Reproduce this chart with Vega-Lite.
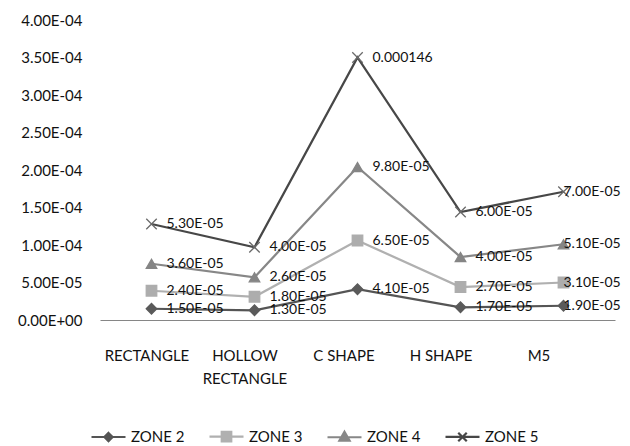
{
  "$schema": "https://vega.github.io/schema/vega-lite/v6.json",
  "width": 515,
  "height": 300,
  "autosize": {"type": "none"},
  "padding": {"left": 100, "top": 20, "right": 15, "bottom": 126},
  "background": "white",
  "config": {
    "view": {"stroke": null},
    "font": "Lato",
    "axis": {"labelFont": "Lato", "labelColor": "#111111", "grid": false, "ticks": false, "title": null}
  },
  "data": {
    "values": [
      {"shape": "RECTANGLE", "zone": "ZONE 2", "value": 0.000015, "label": "1.50E-05"},
      {"shape": "RECTANGLE", "zone": "ZONE 3", "value": 0.000024, "label": "2.40E-05"},
      {"shape": "RECTANGLE", "zone": "ZONE 4", "value": 0.000036, "label": "3.60E-05"},
      {"shape": "RECTANGLE", "zone": "ZONE 5", "value": 0.000053, "label": "5.30E-05"},
      {"shape": "HOLLOW RECTANGLE", "zone": "ZONE 2", "value": 0.000013, "label": "1.30E-05"},
      {"shape": "HOLLOW RECTANGLE", "zone": "ZONE 3", "value": 0.000018, "label": "1.80E-05"},
      {"shape": "HOLLOW RECTANGLE", "zone": "ZONE 4", "value": 0.000026, "label": "2.60E-05"},
      {"shape": "HOLLOW RECTANGLE", "zone": "ZONE 5", "value": 0.00004, "label": "4.00E-05"},
      {"shape": "C SHAPE", "zone": "ZONE 2", "value": 0.000041, "label": "4.10E-05"},
      {"shape": "C SHAPE", "zone": "ZONE 3", "value": 0.000065, "label": "6.50E-05"},
      {"shape": "C SHAPE", "zone": "ZONE 4", "value": 0.000098, "label": "9.80E-05"},
      {"shape": "C SHAPE", "zone": "ZONE 5", "value": 0.000146, "label": "0.000146"},
      {"shape": "H SHAPE", "zone": "ZONE 2", "value": 0.000017, "label": "1.70E-05"},
      {"shape": "H SHAPE", "zone": "ZONE 3", "value": 0.000027, "label": "2.70E-05"},
      {"shape": "H SHAPE", "zone": "ZONE 4", "value": 0.00004, "label": "4.00E-05"},
      {"shape": "H SHAPE", "zone": "ZONE 5", "value": 0.00006, "label": "6.00E-05"},
      {"shape": "M5", "zone": "ZONE 2", "value": 0.000019, "label": "1.90E-05"},
      {"shape": "M5", "zone": "ZONE 3", "value": 0.000031, "label": "3.10E-05"},
      {"shape": "M5", "zone": "ZONE 4", "value": 0.000051, "label": "5.10E-05"},
      {"shape": "M5", "zone": "ZONE 5", "value": 0.00007, "label": "7.00E-05"}
    ]
  },
  "transform": [
    {"stack": "value", "groupby": ["shape"], "sort": [{"field": "zone", "order": "ascending"}], "as": ["y0", "y1"]}
  ],
  "encoding": {
    "x": {
      "field": "shape",
      "type": "nominal",
      "sort": ["RECTANGLE", "HOLLOW RECTANGLE", "C SHAPE", "H SHAPE", "M5"],
      "scale": {"type": "point", "padding": 0.5},
      "axis": {
        "labelAngle": 0,
        "labelFontSize": 15,
        "labelPadding": 28,
        "labelLineHeight": 23,
        "labelBaseline": "top",
        "domainColor": "#868686",
        "domainWidth": 1,
        "labelExpr": "datum.value == 'HOLLOW RECTANGLE' ? ['HOLLOW', 'RECTANGLE'] : datum.value",
        "labelOffset": {
          "condition": [
            {"test": "datum.value == 'RECTANGLE'", "value": -5},
            {"test": "datum.value == 'HOLLOW RECTANGLE'", "value": -10},
            {"test": "datum.value == 'C SHAPE'", "value": -14},
            {"test": "datum.value == 'H SHAPE'", "value": -20}
          ],
          "value": -25
        }
      }
    },
    "y": {
      "field": "y1",
      "type": "quantitative",
      "scale": {"domain": [0, 0.0004], "nice": false, "zero": true},
      "axis": {
        "domain": false,
        "values": [0, 0.00005, 0.0001, 0.00015, 0.0002, 0.00025, 0.0003, 0.00035, 0.0004],
        "labelFontSize": 15,
        "labelPadding": 18,
        "labelExpr": "datum.value == 0 ? '0.00E+00' : (datum.value < 0.000099 ? format(datum.value * 100000, '.2f') + 'E-05' : format(datum.value * 10000, '.2f') + 'E-04')"
      }
    }
  },
  "layer": [
    {
      "mark": {"type": "line", "strokeWidth": 2.25},
      "encoding": {
        "color": {
          "field": "zone", "type": "nominal",
          "scale": {"domain": ["ZONE 2", "ZONE 3", "ZONE 4", "ZONE 5"], "range": ["#555555", "#b0b0b0", "#878787", "#474747"]},
          "legend": null
        }
      }
    },
    {
      "mark": {"type": "point", "filled": true, "opacity": 1, "strokeWidth": 1.3},
      "encoding": {
        "fill": {
          "field": "zone", "type": "nominal",
          "scale": {"domain": ["ZONE 2", "ZONE 3", "ZONE 4", "ZONE 5"], "range": ["#5a5a5a", "#adadad", "#858585", "#6a6a6a"]},
          "legend": null
        },
        "stroke": {
          "field": "zone", "type": "nominal",
          "scale": {"domain": ["ZONE 2", "ZONE 3", "ZONE 4", "ZONE 5"], "range": ["#5a5a5a", "#adadad", "#858585", "#6a6a6a"]},
          "legend": null
        },
        "shape": {
          "field": "zone", "type": "nominal",
          "scale": {"domain": ["ZONE 2", "ZONE 3", "ZONE 4", "ZONE 5"], "range": ["diamond", "square", "triangle-up", "M-1,-1L1,1M-1,1L1,-1"]},
          "legend": null
        },
        "size": {"value": 110}
      }
    },
    {
      "transform": [{"filter": "datum.shape != 'M5'"}],
      "mark": {"type": "text", "align": "left", "baseline": "middle", "dx": 15, "fontSize": 14, "font": "Lato", "color": "#111111"},
      "encoding": {"text": {"field": "label"}}
    },
    {
      "transform": [{"filter": "datum.shape == 'M5'"}],
      "mark": {"type": "text", "align": "left", "baseline": "middle", "dx": 0, "fontSize": 14, "font": "Lato", "color": "#111111"},
      "encoding": {"text": {"field": "label"}}
    },
    {
      "transform": [{"filter": "false"}],
      "mark": {"type": "point", "filled": true, "opacity": 1, "strokeWidth": 2.2},
      "encoding": {
        "fill": {
          "field": "zone", "type": "nominal",
          "scale": {"domain": ["ZONE 2", "ZONE 3", "ZONE 4", "ZONE 5"], "range": ["#555555", "#b0b0b0", "#878787", "#474747"]}
        },
        "stroke": {
          "field": "zone", "type": "nominal",
          "scale": {"domain": ["ZONE 2", "ZONE 3", "ZONE 4", "ZONE 5"], "range": ["#555555", "#b0b0b0", "#878787", "#474747"]}
        },
        "shape": {
          "field": "zone", "type": "nominal",
          "scale": {
            "domain": ["ZONE 2", "ZONE 3", "ZONE 4", "ZONE 5"],
            "range": [
              "M-1,0H1M0,-0.24L0.24,0L0,0.24L-0.24,0Z",
              "M-1,0H1M-0.28,-0.28H0.28V0.28H-0.28Z",
              "M-1,0H1M0,-0.32L0.3,0.2H-0.3Z",
              "M-1,0H1M-0.25,-0.25L0.25,0.25M-0.25,0.25L0.25,-0.25"
            ]
          },
          "legend": {
            "title": null,
            "orient": "none",
            "direction": "horizontal",
            "legendX": -10,
            "legendY": 398,
            "padding": 0,
            "symbolSize": 1156,
            "symbolStrokeWidth": 2.2,
            "labelFont": "Lato",
            "labelFontSize": 15,
            "labelColor": "#111111",
            "labelOffset": 4,
            "columnPadding": 20
          }
        }
      }
    }
  ],
  "resolve": {
    "scale": {"color": "independent", "fill": "independent", "stroke": "independent", "shape": "independent"}
  }
}
